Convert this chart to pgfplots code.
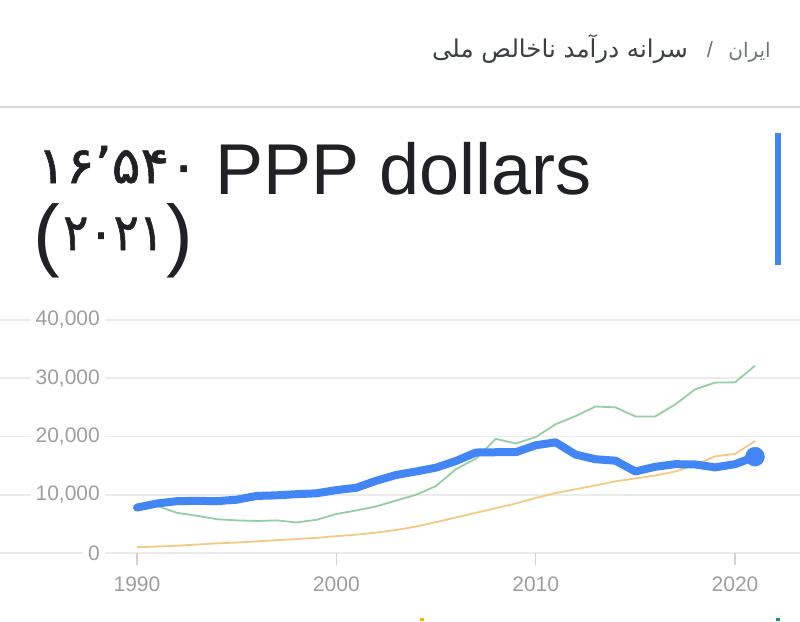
\documentclass[border=0pt]{standalone}
\usepackage{pgfplots}
\pgfplotsset{compat=1.18}
\usepackage{fontspec}
\usepackage{graphicx}
\setmainfont{Liberation Sans}
\newfontfamily\arabicfont[Script=Arabic]{DejaVu Sans}
\newfontfamily\digitfont[FakeBold=1.2]{DejaVu Sans}
\TeXXeTstate=1

\definecolor{gblue}{HTML}{4285F4}
\definecolor{ggreen}{HTML}{93CFA3}
\definecolor{gorange}{HTML}{F6C886}
\definecolor{gyellow}{HTML}{F4B400}
\definecolor{gdarkgreen}{HTML}{0F9D58}
\definecolor{gridgray}{HTML}{EBEBEB}
\definecolor{rulegray}{HTML}{DCDCDC}
\definecolor{labelgray}{HTML}{9E9E9E}
\definecolor{titleblack}{HTML}{202124}
\definecolor{crumbgray}{HTML}{70757A}
\definecolor{crumbdark}{HTML}{3C4043}

% GNI per capita, PPP dollars
\pgfplotstableread{
year iran
1990 7800
1991 8500
1992 8900
1993 8950
1994 8900
1995 9150
1996 9800
1997 9900
1998 10100
1999 10250
2000 10800
2001 11200
2002 12400
2003 13400
2004 14000
2005 14650
2006 15800
2007 17250
2008 17300
2009 17300
2010 18500
2011 19000
2012 16900
2013 16100
2014 15850
2015 14000
2016 14800
2017 15250
2018 15200
2019 14700
2020 15250
2021 16540
}\irantab

\pgfplotstableread{
year upper
1990 7800
1991 8100
1992 6900
1993 6400
1994 5800
1995 5600
1996 5500
1997 5600
1998 5250
1999 5700
2000 6700
2001 7300
2002 8000
2003 9000
2004 10000
2005 11500
2006 14400
2007 16200
2008 19600
2009 18800
2010 19900
2011 22100
2012 23500
2013 25150
2014 25000
2015 23450
2016 23450
2017 25500
2018 28100
2019 29250
2020 29300
2021 32150
}\uppertab

\pgfplotstableread{
year lower
1990 1000
1991 1100
1992 1250
1993 1450
1994 1650
1995 1800
1996 2000
1997 2200
1998 2400
1999 2600
2000 2900
2001 3150
2002 3500
2003 3950
2004 4550
2005 5300
2006 6100
2007 6900
2008 7700
2009 8500
2010 9450
2011 10300
2012 10950
2013 11600
2014 12300
2015 12800
2016 13300
2017 14000
2018 15100
2019 16600
2020 17000
2021 19200
}\lowertab

\begin{document}
\begin{tikzpicture}
% page frame and header, in pixel-like units with y pointing down
\begin{scope}[x=1pt,y=-1pt]
  \fill[white] (0,0) rectangle (800,621);
  % breadcrumb
  \node[anchor=base east, inner sep=0pt, text=crumbgray] at (771,57)
    {\arabicfont\fontsize{20}{24}\selectfont\beginR ایران\endR};
  \node[anchor=base, inner sep=0pt, text=crumbgray] at (710,57)
    {\fontsize{22}{26}\selectfont /};
  \node[anchor=base east, inner sep=0pt, text=crumbdark] at (688,57)
    {\arabicfont\fontsize{24.5}{28}\selectfont\beginR سرانه درآمد ناخالص ملی\endR};
  \draw[rulegray, line width=2pt] (0,106.5) -- (800,106.5);
  % headline value
  \node[anchor=base west, inner sep=0pt, text=titleblack] at (215,194)
    {\fontsize{72}{72}\selectfont PPP dollars};
  \node[anchor=base west, inner sep=0pt, text=titleblack] at (37,183)
    {\scalebox{1.05}[1]{\digitfont\fontsize{51}{51}\selectfont ۱۶’۵۴۰}};
  \node[anchor=base west, inner sep=0pt, text=titleblack] at (63,250)
    {\scalebox{0.92}[1]{\digitfont\fontsize{51}{51}\selectfont ۲۰۲۱}};
  \node[anchor=base west, inner sep=0pt, text=titleblack] at (33,261)
    {\fontsize{80}{80}\selectfont (};
  \node[anchor=base east, inner sep=0pt, text=titleblack] at (193,261)
    {\fontsize{80}{80}\selectfont )};
  \fill[gblue] (775,133) rectangle (781,265);
  \fill[gyellow] (420,618) rectangle (424,621);
  \fill[gdarkgreen] (776,618) rectangle (780,621);
\end{scope}

\begin{axis}[
  at={(0pt,-553pt)}, anchor=south west,
  scale only axis, width=800pt, height=233pt,
  xmin=1983.127, xmax=2023.26,
  ymin=0, ymax=40000,
  clip=false,
  axis x line=bottom, axis y line=left,
  axis line style={draw=none},
  xtick={1990,2000,2010,2020},
  ytick={0,10000,20000,30000,40000},
  scaled y ticks=false,
  ymajorgrids,
  grid style={gridgray, line width=1.6pt},
  tick align=outside,
  major tick length=12pt,
  xtick style={draw=gray!35, line width=1.3pt},
  ytick style={draw=none},
  /pgf/number format/assume math mode=true,
  /pgf/number format/1000 sep={,},
  xticklabel={\pgfmathprintnumber[1000 sep={}]{\tick}},
  ticklabel style={font=\fontsize{21}{21}\selectfont, text=labelgray},
  yticklabel style={anchor=east, fill=white, inner xsep=5pt, inner ysep=1pt, xshift=117pt},
  xticklabel style={yshift=-8pt},
]
\addplot[ggreen, line width=1.8pt, line join=round] table[x=year, y=upper] {\uppertab};
\addplot[gorange, line width=1.8pt, line join=round] table[x=year, y=lower] {\lowertab};
\addplot[gblue, line width=8pt, line join=round, line cap=round] table[x=year, y=iran] {\irantab};
\addplot[only marks, mark=*, mark size=9.5pt, mark options={fill=gblue, draw=gblue}] coordinates {(2021,16540)};
\end{axis}
\pgfresetboundingbox
\path[use as bounding box] (0pt,0pt) rectangle (800pt,-621pt);
\end{tikzpicture}
\end{document}
